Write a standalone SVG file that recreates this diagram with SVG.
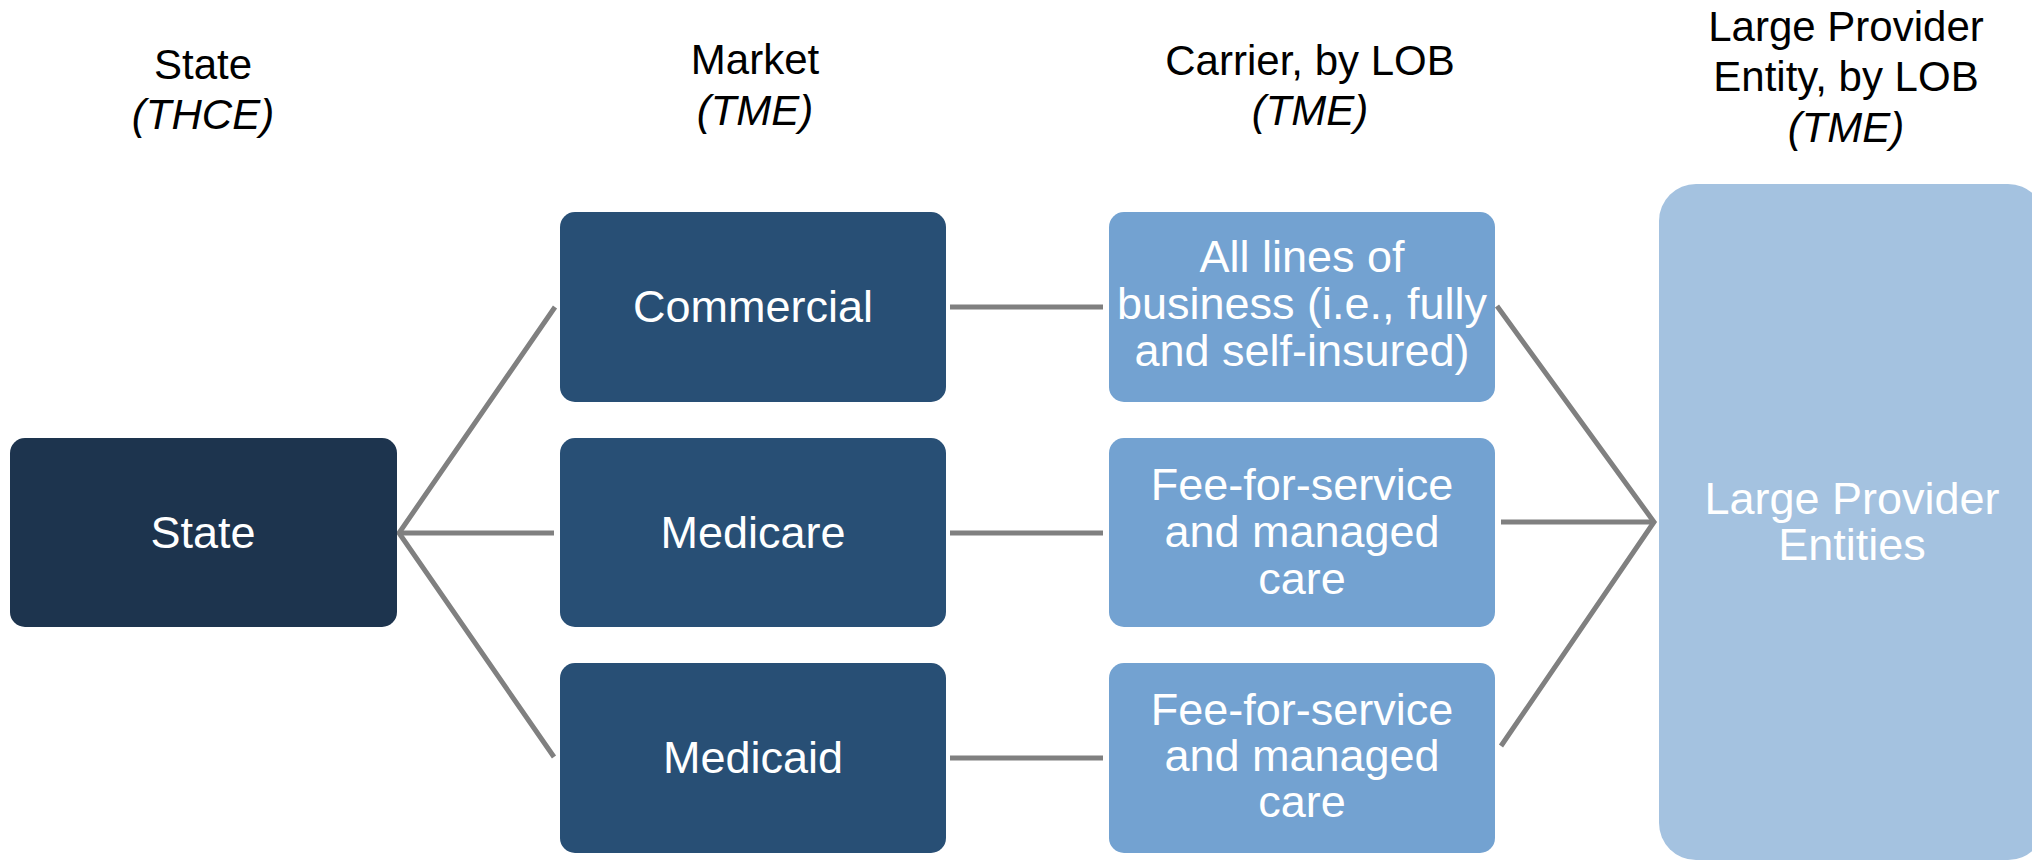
<svg xmlns="http://www.w3.org/2000/svg" width="2032" height="861" viewBox="0 0 2032 861">
<style>
.hdr{font-family:"Liberation Sans",Arial,sans-serif;font-size:42px;fill:#000;text-anchor:middle}
.it{font-style:italic}
.bt{font-family:"Liberation Sans",Arial,sans-serif;font-size:45px;fill:#fff;text-anchor:middle}
.state{fill:#1D344E}
.market{fill:#284F75}
.carrier{fill:#73A2D1}
.large{fill:#A4C2E0}
.conn{stroke:#808080;stroke-width:5;fill:none;stroke-linejoin:miter}
</style>
<rect width="2032" height="861" fill="#fff"/>
<g id="headers">
<text class="hdr" x="203" y="79">State</text>
<text class="hdr it" x="203" y="129">(THCE)</text>
<text class="hdr" x="755" y="74">Market</text>
<text class="hdr it" x="755" y="125">(TME)</text>
<text class="hdr" x="1310" y="75">Carrier, by LOB</text>
<text class="hdr it" x="1310" y="125">(TME)</text>
<text class="hdr" x="1846" y="41">Large Provider</text>
<text class="hdr" x="1846" y="91">Entity, by LOB</text>
<text class="hdr it" x="1846" y="142">(TME)</text>
</g>
<g id="connectors">
<path class="conn" d="M555,307 L399,533 L554,757"/>
<line class="conn" x1="399" y1="533" x2="554" y2="533"/>
<line class="conn" x1="950" y1="307" x2="1103" y2="307"/>
<line class="conn" x1="950" y1="533" x2="1103" y2="533"/>
<line class="conn" x1="950" y1="758" x2="1103" y2="758"/>
<path class="conn" d="M1497,306 L1654,522 L1501,746"/>
<line class="conn" x1="1501" y1="522" x2="1654" y2="522"/>
</g>
<g id="node-state">
<rect class="state" x="10" y="438" width="387" height="189" rx="15"/>
<text class="bt" x="203" y="548">State</text>
</g>
<g id="node-commercial">
<rect class="market" x="560" y="212" width="386" height="190" rx="15"/>
<text class="bt" x="753" y="322">Commercial</text>
</g>
<g id="node-medicare">
<rect class="market" x="560" y="438" width="386" height="189" rx="15"/>
<text class="bt" x="753" y="548">Medicare</text>
</g>
<g id="node-medicaid">
<rect class="market" x="560" y="663" width="386" height="190" rx="15"/>
<text class="bt" x="753" y="773">Medicaid</text>
</g>
<g id="node-carrier-commercial">
<rect class="carrier" x="1109" y="212" width="386" height="190" rx="15"/>
<text class="bt" x="1302" y="272">All lines of</text>
<text class="bt" x="1302" y="319">business (i.e., fully</text>
<text class="bt" x="1302" y="366">and self-insured)</text>
</g>
<g id="node-carrier-medicare">
<rect class="carrier" x="1109" y="438" width="386" height="189" rx="15"/>
<text class="bt" x="1302" y="500">Fee-for-service</text>
<text class="bt" x="1302" y="547">and managed</text>
<text class="bt" x="1302" y="594">care</text>
</g>
<g id="node-carrier-medicaid">
<rect class="carrier" x="1109" y="663" width="386" height="190" rx="15"/>
<text class="bt" x="1302" y="725">Fee-for-service</text>
<text class="bt" x="1302" y="771">and managed</text>
<text class="bt" x="1302" y="817">care</text>
</g>
<g id="node-large-provider">
<rect class="large" x="1659" y="184" width="386" height="676" rx="37"/>
<text class="bt" x="1852" y="514">Large Provider</text>
<text class="bt" x="1852" y="560">Entities</text>
</g>
</svg>
